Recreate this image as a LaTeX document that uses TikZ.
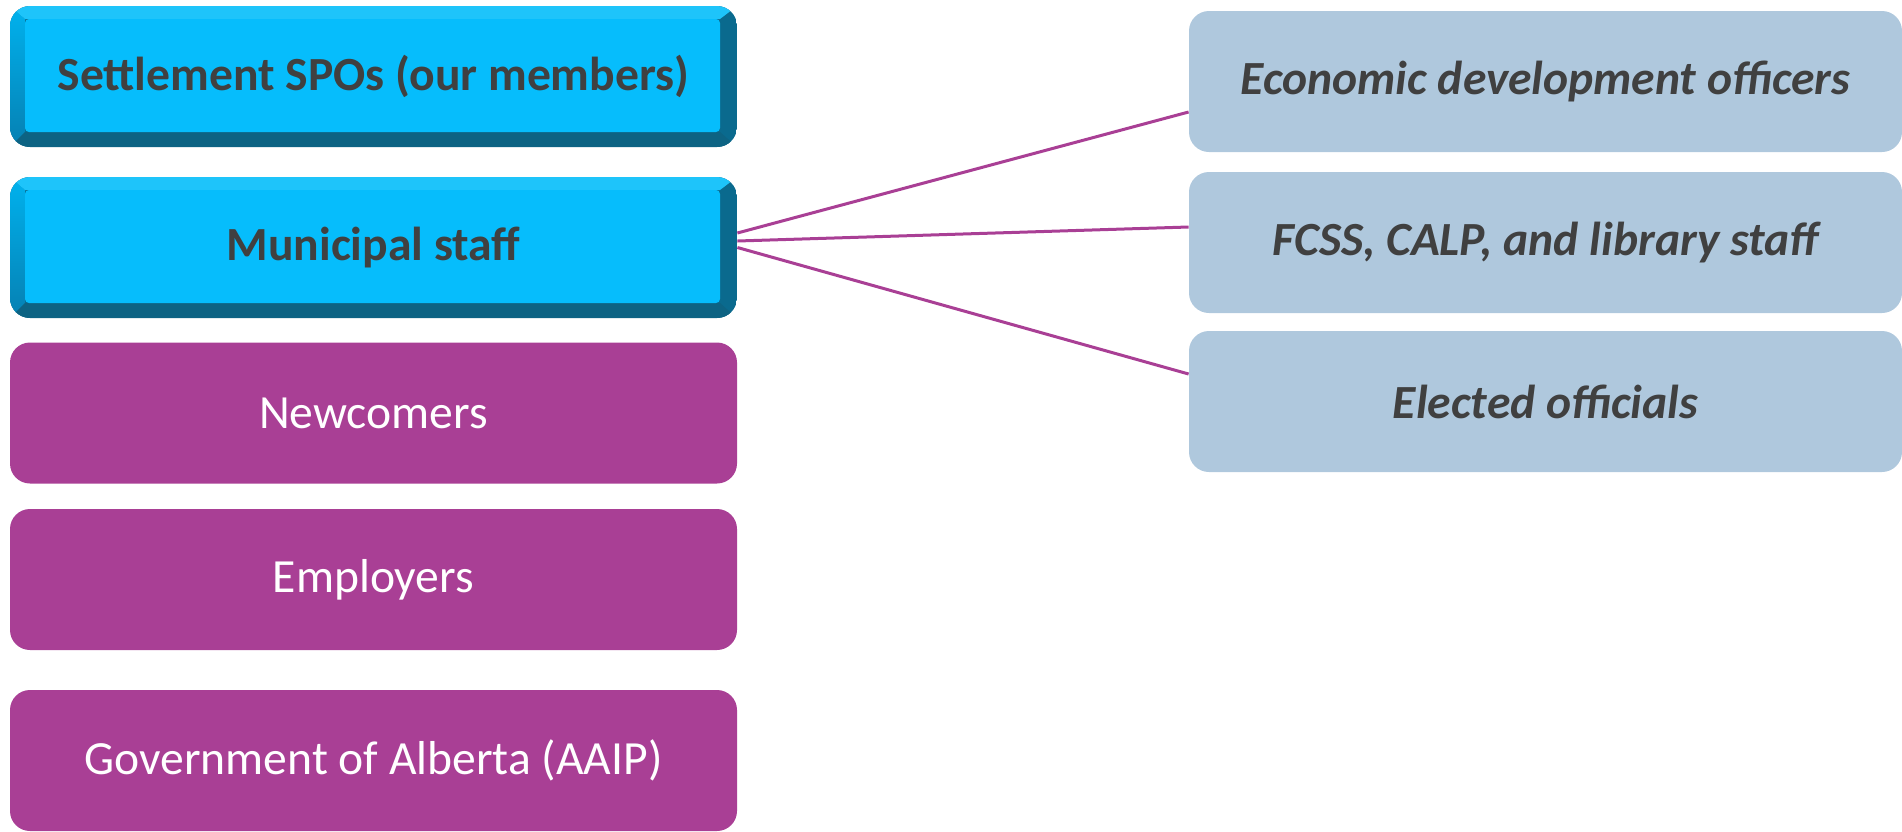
\documentclass[tikz,border=0pt]{standalone}
\usepackage{fontspec}
\setmainfont{Carlito}
\usepackage{tikz}
\usetikzlibrary{calc}

\definecolor{spoface}{RGB}{6,189,252}
\definecolor{spotop}{RGB}{30,196,250}
\definecolor{spoleftA}{RGB}{0,178,238}
\definecolor{spoleftB}{RGB}{6,128,178}
\definecolor{spobottom}{RGB}{13,99,131}
\definecolor{sporight}{RGB}{10,106,142}
\definecolor{grpurple}{RGB}{169,63,149}
\definecolor{grblue}{RGB}{175,200,221}
\definecolor{txtgray}{RGB}{64,64,64}

\tikzset{
  spotext/.style={minimum width=363.5pt, minimum height=70.5pt, inner sep=0pt, text=txtgray, font=\fontsize{23.8}{28}\selectfont\bfseries},
  grpbox/.style={fill=grpurple, rounded corners=10pt, minimum width=363.5pt, minimum height=70.5pt, inner sep=0pt, text=white, font=\fontsize{23.8}{28}\selectfont},
  subbox/.style={fill=grblue, rounded corners=10pt, minimum width=356.5pt, minimum height=70.5pt, inner sep=0pt, text=txtgray, font=\fontsize{23.8}{28}\selectfont\bfseries\itshape},
  link/.style={draw=grpurple, line width=1.5pt},
}

\begin{document}
\begin{tikzpicture}[x=0.5pt,y=0.5pt,yscale=-1,xscale=1]
    \useasboundingbox (0,0) rectangle (1902,831);

    %Shape: bevelled boxes (settlement, municipal)
    \foreach \ytop in {6,177} {
      \begin{scope}
        \clip[rounded corners=10pt] (10,\ytop) rectangle (737,\ytop+141);
        \fill[sporight] (10,\ytop) rectangle (737,\ytop+141);
        \shade[top color=spoleftA, bottom color=spoleftB] (10,\ytop) -- (25,\ytop+13) -- (25,\ytop+126) -- (10,\ytop+141) -- cycle;
        \fill[spotop] (10,\ytop) -- (737,\ytop) -- (720,\ytop+13) -- (25,\ytop+13) -- cycle;
        \fill[spobottom] (10,\ytop+141) -- (25,\ytop+126) -- (720,\ytop+126) -- (737,\ytop+141) -- cycle;
        \fill[spoface, rounded corners=2pt] (25,\ytop+13) rectangle (720,\ytop+126);
      \end{scope}
    }

    % Text Node
    \node[spotext] (spo) at (373.5,76.5) {Settlement SPOs (our members)};
    % Text Node
    \node[spotext] (mun) at (373.5,247.5) {Municipal staff};

    %Shape: purple boxes
    \node[grpbox] (newc) at (373.5,413) {Newcomers};
    \node[grpbox] (empl) at (373.5,579.5) {Employers};
    \node[grpbox] (goa) at (373.5,760.5) {Government of Alberta (AAIP)};

    %Shape: municipal groups
    \node[subbox] (econ) at (1545.5,81.5) {Economic development officers};
    \node[subbox] (fcss) at (1545.5,242.5) {FCSS, CALP, and library staff};
    \node[subbox] (elect) at (1545.5,401.5) {Elected officials};

    %Straight Lines
    \draw[link] ($(mun.east)+(0,-14.5)$) -- ($(econ.west)+(0,30.5)$);
    \draw[link] ($(mun.east)+(0,-6.5)$) -- ($(fcss.west)+(0,-15.5)$);
    \draw[link] (mun.east) -- ($(elect.west)+(0,-27.5)$);

\end{tikzpicture}
\end{document}
